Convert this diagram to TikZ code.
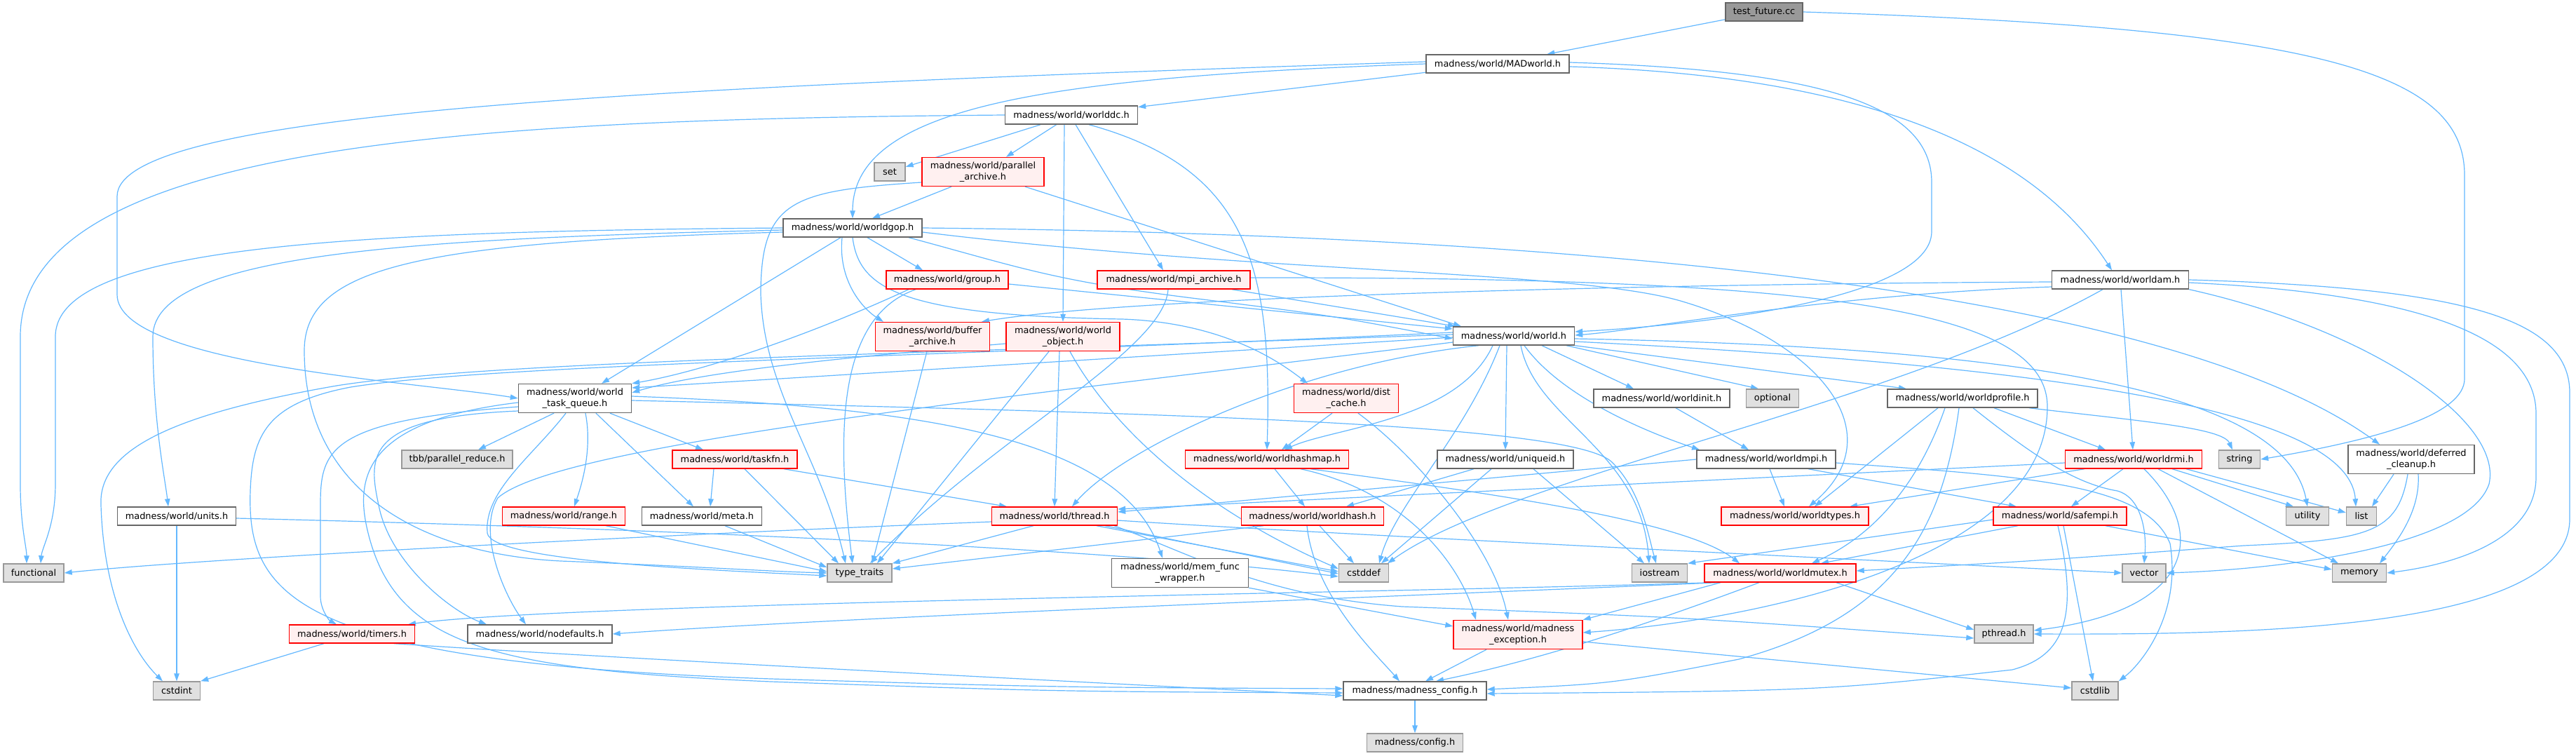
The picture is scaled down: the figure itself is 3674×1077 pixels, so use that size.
\documentclass[tikz,border=0pt]{standalone}
\usepackage{fontspec}
\setmainfont{DejaVu Sans}
\usetikzlibrary{arrows.meta,backgrounds}
\definecolor{edgec}{HTML}{63B8FF}
\definecolor{redfill}{HTML}{FFF0F0}
\definecolor{grayfill}{HTML}{E0E0E0}
\definecolor{grayline}{HTML}{999999}
\definecolor{darkline}{HTML}{666666}
\definecolor{rootfill}{HTML}{999999}
\begin{document}
\begin{tikzpicture}[x=1pt,y=-1pt,
  nbase/.style={rectangle,draw,line width=1.4pt,minimum height=26pt,inner sep=0pt,
    font=\fontsize{12.9}{15.8}\selectfont,align=center,text=black},
  nwhite/.style={nbase,fill=white,draw=darkline},
  nred/.style={nbase,fill=redfill,draw=red},
  ngray/.style={nbase,fill=grayfill,draw=grayline},
  nroot/.style={nbase,fill=rootfill,draw=darkline},
  two/.style={minimum height=41pt},
  edg/.style={draw=edgec,line width=1.2pt,-{Triangle[length=11pt,width=7.5pt]}}]
\useasboundingbox (0,0) rectangle (3674,1077);
% ---------- nodes ----------
\node[nroot,minimum width=110] (tf) at (2516,17) {test\_future.cc};
\node[nwhite,minimum width=204] (mad) at (2136,91) {madness/world/MADworld.h};
\node[nwhite,minimum width=189] (wdc) at (1528,164) {madness/world/worlddc.h};
\node[ngray,minimum width=44] (set) at (1269,245) {set};
\node[nred,two,minimum width=174] (par) at (1402,245) {madness/world/parallel\\\_archive.h};
\node[nwhite,minimum width=198] (gop) at (1216,325) {madness/world/worldgop.h};
\node[nred,minimum width=174] (grp) at (1351,399) {madness/world/group.h};
\node[nred,minimum width=218] (mpa) at (1674,399) {madness/world/mpi\_archive.h};
\node[nwhite,minimum width=195] (wam) at (3024,399) {madness/world/worldam.h};
\node[nred,two,minimum width=163] (buf) at (1330,480) {madness/world/buffer\\\_archive.h};
\node[nred,two,minimum width=162] (wob) at (1516,480) {madness/world/world\\\_object.h};
\node[nwhite,minimum width=173] (w) at (2159,479) {madness/world/world.h};
\node[nwhite,two,minimum width=161] (wtq) at (820,568) {madness/world/world\\\_task\_queue.h};
\node[nred,two,minimum width=149] (dc) at (1920,568) {madness/world/dist\\\_cache.h};
\node[nwhite,minimum width=194] (winit) at (2370,568) {madness/world/worldinit.h};
\node[ngray,minimum width=75] (opt) at (2528,568) {optional};
\node[nwhite,minimum width=214] (wprof) at (2799,568) {madness/world/worldprofile.h};
\node[ngray,minimum width=158] (tbb) at (652,655) {tbb/parallel\_reduce.h};
\node[nred,minimum width=178] (tfn) at (1048,655) {madness/world/taskfn.h};
\node[nred,minimum width=233] (whm) at (1807,655) {madness/world/worldhashmap.h};
\node[nwhite,minimum width=194] (uid) at (2147,655) {madness/world/uniqueid.h};
\node[nwhite,minimum width=198] (wmpi) at (2519,655) {madness/world/worldmpi.h};
\node[nred,minimum width=195] (wrmi) at (3043,655) {madness/world/worldrmi.h};
\node[ngray,minimum width=59] (str) at (3194,655) {string};
\node[nwhite,two,minimum width=180] (def) at (3439,655) {madness/world/deferred\\\_cleanup.h};
\node[nwhite,minimum width=169] (units) at (252,736) {madness/world/units.h};
\node[nred,minimum width=175] (range) at (804,736) {madness/world/range.h};
\node[nwhite,minimum width=171] (meta) at (1001,736) {madness/world/meta.h};
\node[nred,minimum width=179] (thr) at (1504,736) {madness/world/thread.h};
\node[nred,minimum width=203] (wh) at (1872,736) {madness/world/worldhash.h};
\node[nred,minimum width=210] (wty) at (2560,736) {madness/world/worldtypes.h};
\node[nred,minimum width=190] (sm) at (2938,736) {madness/world/safempi.h};
\node[ngray,minimum width=61] (util) at (3291,736) {utility};
\node[ngray,minimum width=43] (list) at (3368,736) {list};
\node[ngray,minimum width=86] (fun) at (48,817) {functional};
\node[ngray,minimum width=92] (tt) at (1226,817) {type\_traits};
\node[nwhite,two,minimum width=195] (mfw) at (1683,817) {madness/world/mem\_func\\\_wrapper.h};
\node[ngray,minimum width=71] (cdf) at (1945,817) {cstddef};
\node[ngray,minimum width=79] (ios) at (2367,817) {iostream};
\node[nred,minimum width=216] (wmx) at (2539,817) {madness/world/worldmutex.h};
\node[ngray,minimum width=62] (vec) at (3058,817) {vector};
\node[ngray,minimum width=77] (mem) at (3365,817) {memory};
\node[nred,minimum width=179] (timers) at (502,904) {madness/world/timers.h};
\node[nwhite,minimum width=206] (nod) at (770,904) {madness/world/nodefaults.h};
\node[nred,two,minimum width=184] (mex) at (2165,905) {madness/world/madness\\\_exception.h};
\node[ngray,minimum width=84] (pth) at (2858,904) {pthread.h};
\node[ngray,minimum width=67] (cint) at (252,985) {cstdint};
\node[nwhite,minimum width=204] (cfg) at (2018,985) {madness/madness\_config.h};
\node[ngray,minimum width=66] (cstdlib) at (2988,985) {cstdlib};
\node[ngray,minimum width=137] (conf) at (2018,1059) {madness/config.h};
% ---------- edges ----------
\begin{pgfonlayer}{background}
\fill[white] (0,0) rectangle (3674,1077);
% test_future.cc
\draw[edg] (tf) -- (mad);
\draw[edg] (tf.east) .. controls (3300,40) and (3515,100) .. (3515,250) -- (3515,540) .. controls (3515,590) and (3400,625) .. (str.east);
% MADworld.h
\draw[edg] (mad) -- (wdc);
\draw[edg] (mad.west) .. controls (1500,110) and (1216,150) .. (gop.north);
\draw[edg] ([yshift=3]mad.west) .. controls (900,125) and (167,160) .. (167,280) -- (167,420) .. controls (167,520) and (600,545) .. (wtq.west);
\draw[edg] ([yshift=2]mad.east) .. controls (2600,100) and (2755,150) .. (2755,260) -- (2755,330) .. controls (2755,430) and (2400,465) .. ([yshift=6]w.east);
\draw[edg] ([yshift=-4]mad.east) .. controls (2750,110) and (2930,260) .. ([xshift=-12]wam.north);
% worlddc.h
\draw[edg] (wdc) -- (set);
\draw[edg] (wdc) -- (par);
\draw[edg] ([xshift=-10]wdc.south) -- (wob.north);
\draw[edg] ([xshift=6]wdc.south) -- ([xshift=-15]mpa.north);
\draw[edg] ([xshift=25]wdc.south) .. controls (1780,240) and (1815,380) .. (whm.north);
\draw[edg] (wdc.west) .. controls (700,170) and (29,200) .. (29,480) -- (29,690) .. controls (29,750) and (38,780) .. ([xshift=-10]fun.north);
% parallel_archive.h
\draw[edg] ([xshift=-45]par.south) -- ([xshift=28]gop.north);
\draw[edg] ([yshift=-15]par.west) .. controls (1130,272) and (1085,285) .. (1085,420) .. controls (1090,560) and (1170,650) .. ([xshift=-20]tt.north);
\draw[edg] ([xshift=60]par.south) -- ([xshift=-75]w.north);
% worldgop.h
\draw[edg] ([xshift=21]gop.south) -- ([xshift=-35]grp.north);
\draw[edg] ([xshift=-15]gop.south) .. controls (1195,400) and (1230,440) .. ([xshift=-70]buf.north);
\draw[edg] ([xshift=-17]gop.south) -- ([xshift=38]wtq.north);
\draw[edg] (gop.south) .. controls (1225,410) and (1280,450) .. (1600,455) .. controls (1750,460) and (1830,520) .. ([xshift=-55]dc.north);
\draw[edg] ([xshift=80]gop.south) .. controls (1450,380) and (1500,400) .. (1700,425) .. controls (1900,450) .. ([yshift=-4]w.west);
\draw[edg] ([yshift=-6]gop.east) .. controls (1800,390) and (2250,385) .. (2400,430) .. controls (2600,490) and (2700,620) .. ([xshift=20]wty.north);
\draw[edg] (gop.east) .. controls (2300,335) and (3100,420) .. ([xshift=-45]def.north);
\draw[edg] (gop.west) .. controls (500,330) and (79,350) .. (79,480) -- (79,690) .. controls (79,750) and (60,780) .. ([xshift=10]fun.north);
\draw[edg] ([yshift=-3]gop.west) .. controls (600,340) and (218,360) .. (218,480) .. controls (218,600) and (235,680) .. ([xshift=-12]units.north);
\draw[edg] ([yshift=-6]gop.west) .. controls (600,345) and (434,380) .. (434,500) .. controls (434,700) and (600,790) .. (800,800) .. controls (1000,808) and (1100,815) .. (tt.west);
% group.h
\draw[edg] ([yshift=-6]grp.east) -- ([yshift=10]w.west);
\draw[edg] ([xshift=-45]grp.south) .. controls (1200,450) and (1190,600) .. ([xshift=-10]tt.north);
\draw[edg] ([xshift=-55]grp.south) .. controls (1150,480) and (1000,530) .. (wtq.north east);
% mpi_archive.h
\draw[edg] (mpa) -- (w);
\draw[edg] ([xshift=-8]mpa.south) .. controls (1660,500) and (1420,620) .. ([xshift=15]tt.north);
\draw[edg] ([yshift=3]mpa.east) .. controls (2600,395) and (2920,440) .. (2920,580) .. controls (2920,800) and (2500,885) .. ([yshift=3]mex.east);
% worldam.h
\draw[edg] ([yshift=-3]wam.west) .. controls (2300,405) and (1600,425) .. ([xshift=70]buf.north);
\draw[edg] ([yshift=-10]wam.west) .. controls (2600,420) and (2350,470) .. ([yshift=1]w.east);
\draw[edg] ([xshift=-25]wam.south) .. controls (2700,580) and (2150,680) .. ([xshift=34]cdf.north);
\draw[edg] (wam) -- (wrmi);
\draw[edg] (wam.east) .. controls (3500,410) and (3665,450) .. (3665,560) -- (3665,740) .. controls (3665,900) and (3200,905) .. (pth.east);
\draw[edg] ([yshift=-4]wam.east) .. controls (3480,420) and (3617,490) .. (3617,590) -- (3617,680) .. controls (3617,770) and (3500,805) .. (mem.east);
\draw[edg] (wam.south east) .. controls (3380,470) and (3570,600) .. (3550,690) .. controls (3520,780) and (3250,812) .. (vec.east);
% world_object.h
\draw[edg] ([xshift=-20]wob.south) -- ([xshift=25]tt.north);
\draw[edg] ([xshift=-5]wob.south) -- (thr.north);
\draw[edg] ([xshift=10]wob.south) .. controls (1580,600) and (1700,720) .. ([yshift=6]cdf.west);
\draw[edg] ([yshift=-10]wob.west) .. controls (1200,510) and (1000,530) .. ([yshift=8]wtq.east);
% buffer_archive.h
\draw[edg] ([xshift=-8]buf.south) -- ([xshift=18]tt.north);
% world.h
\draw[edg] ([yshift=-2]w.west) -- ([yshift=15]wtq.east);
\draw[edg] ([yshift=2]w.west) .. controls (1300,505) and (700,515) .. (480,550) .. controls (250,590) and (140,640) .. (144,720) .. controls (148,850) and (190,930) .. ([xshift=-20]cint.north);
\draw[edg] ([yshift=5]w.west) .. controls (1300,510) and (700,520) .. (500,552) .. controls (380,575) and (360,620) .. (357,700) .. controls (352,850) and (420,945) .. (1100,968) .. controls (1500,980) .. ([yshift=3]cfg.west);
\draw[edg] ([yshift=-9]w.west) .. controls (1500,560) and (800,630) .. (710,710) .. controls (680,760) and (720,850) .. ([xshift=-20]nod.north);
\draw[edg] ([xshift=-50]w.south) .. controls (1850,520) and (1600,640) .. ([xshift=25]thr.north);
\draw[edg] ([xshift=-30]w.south) .. controls (2080,600) and (1900,610) .. ([xshift=25]whm.north);
\draw[edg] ([xshift=-20]w.south) .. controls (2090,620) and (1990,720) .. ([xshift=22]cdf.north);
\draw[edg] ([xshift=-10]w.south) -- (uid.north);
\draw[edg] ([xshift=10]w.south) .. controls (2190,600) and (2340,640) .. ([xshift=-15]ios.north);
\draw[edg] ([xshift=15]w.south) .. controls (2230,570) and (2360,620) .. ([xshift=-95]wmpi.north);
\draw[edg] ([xshift=40]w.south) -- ([xshift=-40]winit.north);
\draw[edg] ([xshift=75]w.south) -- ([xshift=-20]opt.north);
\draw[edg] (w.south east) -- ([xshift=-80]wprof.north);
\draw[edg] ([yshift=-4]w.east) .. controls (2900,495) and (3260,560) .. (util.north);
\draw[edg] ([yshift=-8]w.east) .. controls (2900,520) and (3350,580) .. ([xshift=-8]list.north);
% world_task_queue.h
\draw[edg] ([xshift=-30]wtq.south) -- ([xshift=30]tbb.north);
\draw[edg] ([xshift=50]wtq.south) -- ([xshift=-45]tfn.north);
\draw[edg] ([xshift=15]wtq.south) .. controls (845,640) and (830,690) .. ([xshift=15]range.north);
\draw[edg] ([xshift=30]wtq.south) -- ([xshift=-12]meta.north);
\draw[edg] ([xshift=-13]wtq.south) .. controls (760,650) and (690,700) .. (695,760) .. controls (700,800) and (1000,812) .. ([yshift=-4]tt.west);
\draw[edg] ([yshift=-12]wtq.west) .. controls (470,600) and (457,640) .. (457,720) -- (457,850) .. controls (457,870) and (470,885) .. ([xshift=-22]timers.north);
\draw[edg] ([yshift=-18]wtq.west) .. controls (520,595) and (525,650) .. (540,720) .. controls (555,800) and (640,870) .. ([xshift=-76]nod.north);
\draw[edg] ([yshift=-6]wtq.west) .. controls (520,600) and (505,680) .. (525,760) .. controls (565,920) and (700,955) .. (1100,972) .. controls (1500,986) .. ([yshift=-3]cfg.west);
\draw[edg] ([yshift=3]wtq.east) .. controls (1300,580) and (1600,620) .. ([xshift=-25]mfw.north);
\draw[edg] ([yshift=-3]wtq.east) .. controls (1700,590) and (2250,605) .. (2300,660) .. controls (2340,700) and (2350,760) .. ([xshift=-5]ios.north);
% taskfn.h
\draw[edg] ([xshift=-30]tfn.south) -- ([xshift=12]meta.north);
\draw[edg] ([xshift=14]tfn.south) -- ([xshift=-30]tt.north);
\draw[edg] ([xshift=70]tfn.south) -- ([xshift=-68]thr.north);
% units.h
\draw[edg] (units) -- (cint);
\draw[edg] ([yshift=-3]units.east) .. controls (1000,755) and (1600,785) .. ([yshift=-5]cdf.west);
% range.h, meta.h
\draw[edg] ([xshift=60]range.south) -- ([yshift=2]tt.west);
\draw[edg] ([xshift=33]meta.south) -- ([yshift=8]tt.west);
% thread.h
\draw[edg] ([xshift=-30]thr.south) -- (tt.north east);
\draw[edg] ([yshift=-8]thr.west) .. controls (1000,760) and (300,795) .. (fun.east);
\draw[edg] ([xshift=60]thr.south) -- ([yshift=2]cdf.west);
\draw[edg] ([xshift=72]thr.south) -- ([yshift=-1]cdf.west);
\draw[edg] ([yshift=-6]thr.east) .. controls (1900,762) and (2700,800) .. (vec.west);
\draw[edg] ([xshift=85]thr.south) .. controls (1700,790) and (1800,850) .. (2000,865) .. controls (2400,880) .. ([yshift=-6]pth.west);
% worldhash.h
\draw[edg] ([xshift=-8]wh.south) .. controls (1875,850) and (1960,930) .. ([xshift=-22]cfg.north);
\draw[edg] ([xshift=10]wh.south) -- ([xshift=-14]cdf.north);
\draw[edg] ([xshift=-70]wh.south) -- ([yshift=6]tt.east);
% worldhashmap.h
\draw[edg] (whm) -- (wh);
\draw[edg] ([xshift=48]whm.south) .. controls (2000,700) and (2080,800) .. ([xshift=-60]mex.north);
\draw[edg] ([xshift=62]whm.south) .. controls (2100,700) and (2400,740) .. ([xshift=-58]wmx.north);
% dist_cache.h
\draw[edg] ([xshift=-20]dc.south) -- ([xshift=21]whm.north);
\draw[edg] ([xshift=17]dc.south) .. controls (2020,650) and (2130,780) .. ([xshift=-14]mex.north);
% mem_func_wrapper.h
\draw[edg] (mfw.south east) -- ([yshift=12]mex.west);
% uniqueid.h
\draw[edg] ([xshift=-45]uid.south) -- ([xshift=48]wh.north);
\draw[edg] ([xshift=-20]uid.south) -- ([xshift=25]cdf.north);
\draw[edg] ([xshift=40]uid.south) -- ([xshift=-22]ios.north);
% worldinit.h
\draw[edg] ([xshift=20]winit.south) -- ([xshift=-25]wmpi.north);
% worldmpi.h
\draw[edg] ([xshift=5]wmpi.south) -- ([xshift=-15]wty.north);
\draw[edg] ([xshift=60]wmpi.south) -- ([xshift=-62]sm.north);
\draw[edg] (wmpi.west) -- ([yshift=6]thr.east);
\draw[edg] ([yshift=-5]wmpi.east) .. controls (2900,680) and (3060,690) .. (3095,775) .. controls (3112,880) and (3050,950) .. (cstdlib.north east);
% worldprofile.h
\draw[edg] ([xshift=-35]wprof.south) -- ([xshift=28]wty.north);
\draw[edg] ([xshift=-25]wprof.south) .. controls (2740,680) and (2680,760) .. ([xshift=45]wmx.north);
\draw[edg] ([xshift=-5]wprof.south) .. controls (2770,760) and (2700,880) .. (2480,940) .. controls (2300,975) .. ([yshift=2]cfg.east);
\draw[edg] ([xshift=15]wprof.south) .. controls (2900,650) and (2960,690) .. (3020,700) .. controls (3055,710) and (3062,760) .. (vec.north);
\draw[edg] ([xshift=45]wprof.south) -- ([xshift=-40]wrmi.north);
\draw[edg] ([xshift=95]wprof.south) .. controls (3050,600) and (3170,610) .. ([xshift=-10]str.north);
% worldrmi.h
\draw[edg] ([xshift=-70]wrmi.south) -- ([xshift=78]wty.north);
\draw[edg] ([xshift=-15]wrmi.south) -- ([xshift=16]sm.north);
\draw[edg] ([xshift=15]wrmi.south) .. controls (3150,760) and (3130,870) .. ([yshift=5]pth.east);
\draw[edg] ([xshift=35]wrmi.south) -- ([xshift=-30]mem.north);
\draw[edg] ([xshift=55]wrmi.south) -- ([xshift=-20]util.north);
\draw[edg] ([xshift=75]wrmi.south) -- ([yshift=5]list.west);
\draw[edg] ([yshift=-5]wrmi.west) -- ([yshift=10]thr.east);
% safempi.h
\draw[edg] ([yshift=-5]sm.west) -- (ios.north east);
\draw[edg] ([xshift=-60]sm.south) -- ([xshift=58]wmx.north);
\draw[edg] ([xshift=65]sm.south) -- ([yshift=5]mem.west);
\draw[edg] ([xshift=5]sm.south) -- ([xshift=-3]cstdlib.north);
\draw[edg] ([xshift=-3]sm.south) .. controls (2965,880) and (2945,935) .. (2870,955) .. controls (2600,985) .. ([yshift=-4]cfg.east);
% worldmutex.h
\draw[edg] ([xshift=80]wmx.south) -- ([yshift=6]pth.west);
\draw[edg] ([xshift=-30]wmx.south) .. controls (2350,890) and (2200,940) .. ([xshift=30]cfg.north);
\draw[edg] ([xshift=-85]wmx.south) -- (mex.north east);
\draw[edg] ([xshift=20]wmx.south west) .. controls (2000,850) and (1200,880) .. (nod.east);
\draw[edg] ([xshift=10]wmx.south west) .. controls (2000,845) and (800,860) .. ([xshift=80]timers.north);
% madness_exception.h
\draw[edg] ([xshift=-45]mex.south) -- ([xshift=15]cfg.north);
\draw[edg] ([yshift=-10]mex.east) -- ([yshift=4]cstdlib.west);
% deferred_cleanup.h
\draw[edg] ([xshift=-25]def.south) -- ([xshift=15]list.north);
\draw[edg] ([xshift=10]def.south) .. controls (3452,728) and (3420,770) .. ([xshift=29]mem.north);
\draw[edg] ([xshift=-5]def.south) .. controls (3420,760) and (3380,770) .. (3200,778) .. controls (2900,800) .. ([yshift=3]wmx.east);
% madness_config.h
\draw[edg] (cfg) -- (conf);
% timers.h
\draw[edg] ([xshift=-40]timers.south) -- (cint.north east);
\draw[edg] ([xshift=60]timers.south) .. controls (900,940) and (1500,970) .. ([yshift=-7]cfg.west);
\end{pgfonlayer}
\end{tikzpicture}
\end{document}
